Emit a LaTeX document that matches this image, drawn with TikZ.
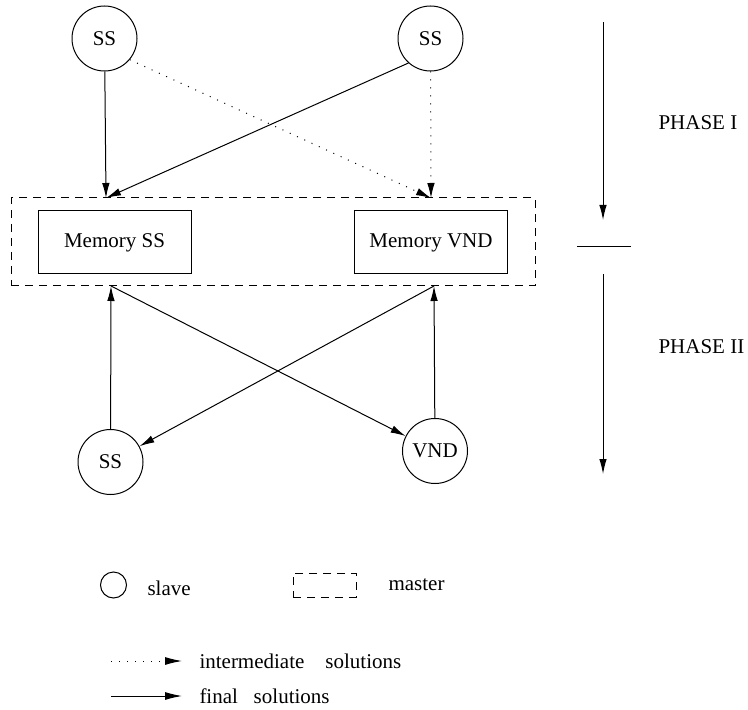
\documentclass[tikz,border=0pt]{standalone}
\usepackage{fontspec}
\setmainfont{Liberation Serif}
\usetikzlibrary{arrows.meta}

\begin{document}
\begin{tikzpicture}[
    x=0.5pt, y=-0.5pt, line width=0.5pt,
    every node/.style={font=\fontsize{10.5}{12.6}\selectfont},
    slave/.style={draw, circle, minimum size=32.5pt, inner sep=0pt},
    memory/.style={draw, rectangle, minimum width=76.5pt, minimum height=31.5pt},
    master/.style={draw, rectangle, dash pattern=on 4pt off 3pt, inner sep=0pt},
    final/.style={-{Latex[length=7.5pt,width=3.75pt]}},
    inter/.style={final, dash pattern=on 0.5pt off 3.5pt},
    legtext/.style={anchor=base west, inner sep=0pt}
]
    \useasboundingbox (0,0) rectangle (748,710);

    % Master cu memoriile
    \node[master, minimum width=262pt, minimum height=44pt] (mast) at (273,242) {};
    \node[memory] (memss) at (114.5,242.5) {Memory SS};
    \node[memory] (memvnd) at (431,242.5) {Memory VND};

    % Intrari si iesiri pe marginea master
    \coordinate (inss) at (106,198);
    \coordinate (invnd) at (431,198);
    \coordinate (outss) at (111,286);
    \coordinate (outvnd) at (434,286);

    % Faza I: slave sus
    \node[slave] (ssa) at (104.5,38.5) {SS};
    \node[slave] (ssb) at (430.5,38.5) {SS};

    % Faza II: slave jos
    \node[slave] (ssc) at (110.5,462) {SS};
    \node[slave] (vnd) at (435,451) {VND};

    % Solutii faza I
    \draw[final] (ssa) -- (inss);
    \draw[final] (ssb.228) -- (inss);
    \draw[inter] (ssa.320) -- (invnd);
    \draw[inter] (ssb) -- (invnd);

    % Solutii faza II
    \draw[final] (ssc) -- (outss);
    \draw[final] (vnd) -- (outvnd);
    \draw[final] (outss) -- (vnd);
    \draw[final] (outvnd) -- (ssc);

    % Axa fazelor
    \coordinate (pia) at (603,22);
    \coordinate (pib) at (603,220);
    \coordinate (bara) at (577,247);
    \coordinate (barb) at (631,247);
    \coordinate (piia) at (603,274);
    \coordinate (piib) at (603,474);
    \draw[final] (pia) -- (pib);
    \draw (bara) -- (barb);
    \draw[final] (piia) -- (piib);
    \node[anchor=west, inner sep=0pt] (phi) at (658,123) {PHASE I};
    \node[anchor=west, inner sep=0pt] (phii) at (658,347) {PHASE II};

    % Legenda
    \node[draw, circle, minimum size=13pt, inner sep=0pt] (legslave) at (113.5,585) {};
    \node[legtext] (txslave) at (147,595) {slave};
    \node[master, minimum width=31.5pt, minimum height=12pt] (legmast) at (324.5,585) {};
    \node[legtext] (txmast) at (388,590) {master};
    \coordinate (lia) at (111,661);
    \coordinate (lib) at (182,661);
    \coordinate (lfa) at (111,696);
    \coordinate (lfb) at (182,696);
    \draw[inter, -{Latex[length=8.5pt,width=4pt]}] (lia) -- (lib);
    \draw[final, -{Latex[length=8.5pt,width=4pt]}] (lfa) -- (lfb);
    \node[legtext] (txinter) at (199,668) {intermediate\hspace{1em}solutions};
    \node[legtext] (txfinal) at (199,703) {final\hspace{0.75em}solutions};
\end{tikzpicture}
\end{document}
